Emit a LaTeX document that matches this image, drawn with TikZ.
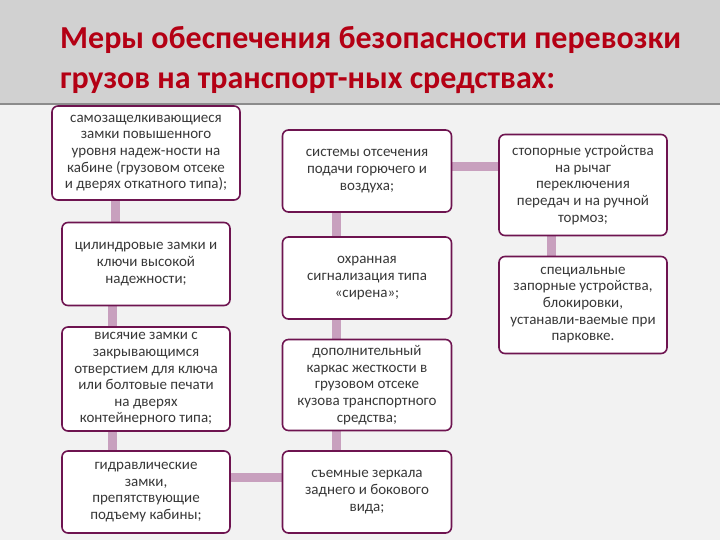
\documentclass[tikz,border=0pt]{standalone}
\usepackage{fontspec}
\setmainfont{Carlito}
\usetikzlibrary{backgrounds}
\definecolor{linkc}{RGB}{200,160,190}
\definecolor{boxc}{RGB}{110,20,80}
\definecolor{titlec}{RGB}{180,0,20}
\begin{document}
\begin{tikzpicture}[x=1pt,y=-1pt,
  box/.style={draw=boxc,line width=1.6pt,rounded corners=6pt,fill=white,align=center,
    text=black!78,font=\fontsize{15}{16.6}\selectfont,inner sep=1pt},
  link/.style={draw=linkc,line width=9pt}]
\useasboundingbox (0,0) rectangle (720,540);
\node[anchor=west,text=titlec,font=\bfseries\fontsize{32}{40}\selectfont,align=left,inner sep=0] (title) at (60,60) {Меры обеспечения безопасности перевозки\\грузов на транспорт-ных средствах:};
\node[box,minimum width=188,minimum height=94] (a1) at (146,153) {самозащелкивающиеся\\замки повышенного\\уровня надеж-ности на\\кабине (грузовом отсеке\\и дверях откатного типа);};
\node[box,minimum width=168,minimum height=83] (a2) at (146,264) {цилиндровые замки и\\ключи высокой\\надежности;};
\node[box,minimum width=168,minimum height=104] (a3) at (146,379) {висячие замки с\\закрывающимся\\отверстием для ключа\\или болтовые печати\\на дверях\\контейнерного типа;};
\node[box,minimum width=168,minimum height=82] (a4) at (146,492) {гидравлические\\замки,\\препятствующие\\подъему кабины;};
\node[box,minimum width=169,minimum height=82] (b1) at (367,171) {системы отсечения\\подачи горючего и\\воздуха;};
\node[box,minimum width=169,minimum height=82] (b2) at (367,278) {охранная\\сигнализация типа\\«сирена»;};
\node[box,minimum width=169,minimum height=91] (b3) at (367,385) {дополнительный\\каркас жесткости в\\грузовом отсеке\\кузова транспортного\\средства;};
\node[box,minimum width=169,minimum height=82] (b4) at (367,492) {съемные зеркала\\заднего и бокового\\вида;};
\node[box,minimum width=168,minimum height=101] (c1) at (583,185) {стопорные устройства\\на рычаг\\переключения\\передач и на ручной\\тормоз;};
\node[box,minimum width=168,minimum height=97] (c2) at (583,305) {специальные\\запорные устройства,\\блокировки,\\устанавли-ваемые при\\парковке.};
\begin{scope}[on background layer]
\fill[black!5] (0,0) rectangle (720,540);
\fill[black!18] (0,0) rectangle (720,104);
\draw[black!45,line width=1.2pt] (0,104) -- (720,104);
\path[link] (a1.south -| 115,0) -- (a2.north -| 115,0);
\path[link] (a2.south -| 112,0) -- (a3.north -| 112,0);
\path[link] (a3.south -| 112,0) -- (a4.north -| 112,0);
\path[link] (a4.east |- 0,477) -- (b4.west |- 0,477);
\path[link] (b1.south -| 336,0) -- (b2.north -| 336,0);
\path[link] (b2.south -| 336,0) -- (b3.north -| 336,0);
\path[link] (b3.south -| 336,0) -- (b4.north -| 336,0);
\path[link] (b1.east |- 0,167) -- (c1.west |- 0,167);
\path[link] (c1.south -| 551,0) -- (c2.north -| 551,0);
\end{scope}
\end{tikzpicture}
\end{document}
